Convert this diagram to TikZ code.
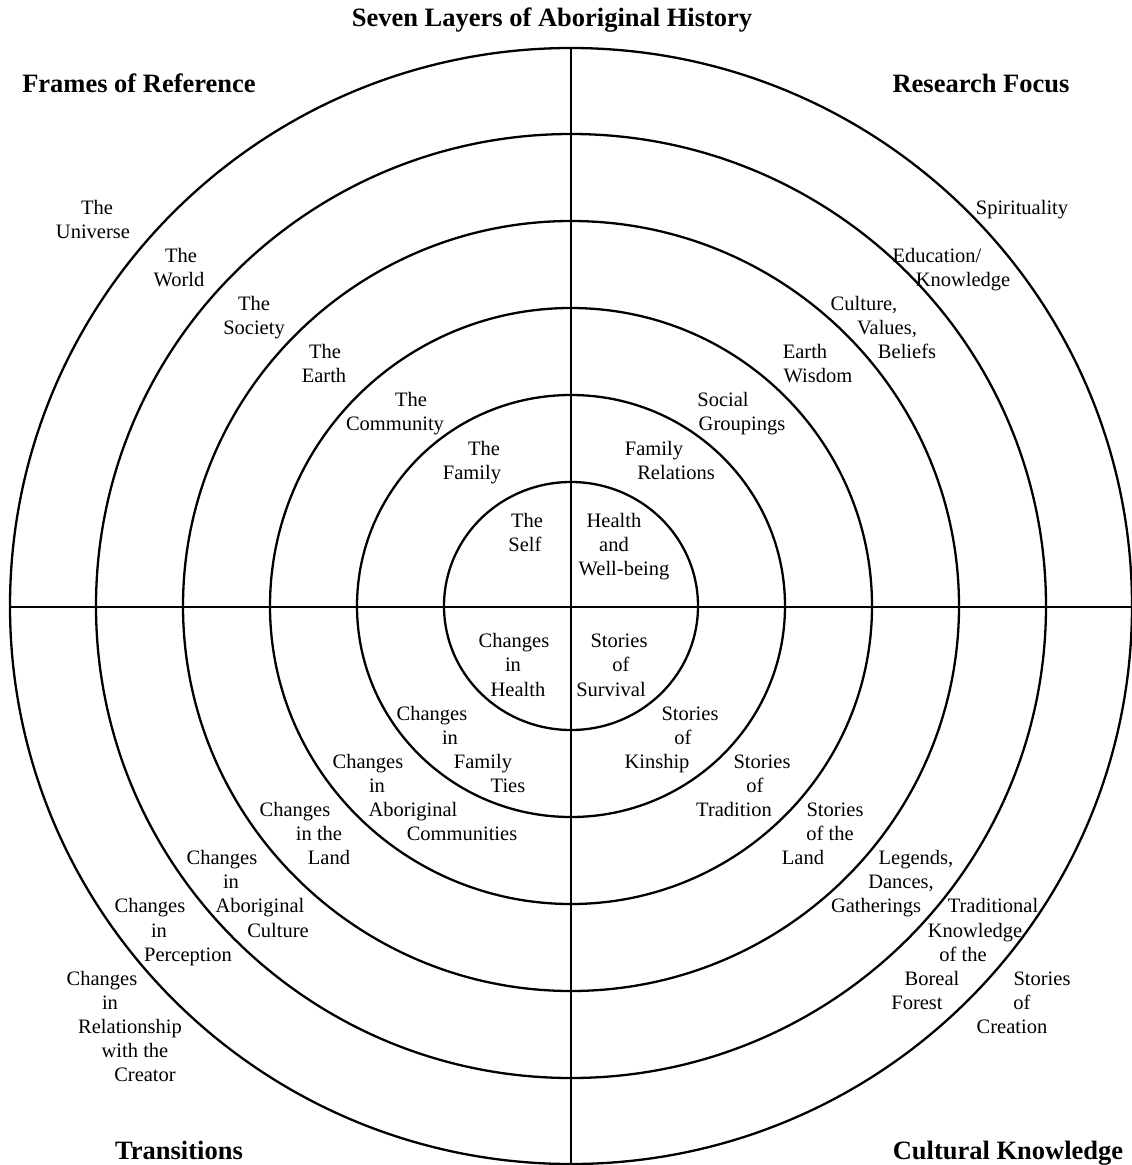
\documentclass[tikz,border=0pt]{standalone}
\usepackage{fontspec}
\setmainfont{Liberation Serif}
\tikzset{
  ring/.style={line width=2.3pt},
  axis/.style={line width=1.8pt},
  lab/.style={anchor=base, inner sep=0pt, font=\fontsize{20.5}{24}\selectfont},
  head/.style={anchor=base, inner sep=0pt, font=\fontsize{26.5}{30}\selectfont\bfseries},
}
\newcommand{\lab}[4]{\node[lab] (#1) at (#2,{214+24.1*#3}) {#4};}
\begin{document}
\begin{tikzpicture}[x=1pt,y=-1pt]
\useasboundingbox (0,0) rectangle (1132,1165);
% rings
\coordinate (ctr) at (571,606);
\foreach \r in {127,214,301,388,475,561}{
  \draw[ring] (ctr) ellipse [x radius=\r, y radius={\r-3}];
}
\coordinate (axW) at (10,607);
\coordinate (axE) at (1132,607);
\coordinate (axN) at (571,48);
\coordinate (axS) at (571,1165);
\draw[axis] (axW) -- (axE);
\draw[axis] (axN) -- (axS);
% headings
\node[head] (title) at (552,26) {Seven Layers of Aboriginal History};
\node[head] (hFR) at (139,92) {Frames of Reference};
\node[head] (hRF) at (981,92) {Research Focus};
\node[head] (hTR) at (179,1159) {Transitions};
\node[head] (hCK) at (1008,1159) {Cultural Knowledge};
% top-left
\lab{uni1}{97}{0}{The}\lab{uni2}{93}{1}{Universe}
\lab{wor1}{181}{2}{The}\lab{wor2}{179}{3}{World}
\lab{soc1}{254}{4}{The}\lab{soc2}{254}{5}{Society}
\lab{ear1}{325}{6}{The}\lab{ear2}{324}{7}{Earth}
\lab{com1}{411}{8}{The}\lab{com2}{395}{9}{Community}
\lab{fam1}{484}{10}{The}\lab{fam2}{472}{11}{Family}
\lab{self1}{527}{13}{The}\lab{self2}{525}{14}{Self}
% top-right
\lab{spi}{1022}{0}{Spirituality}
\lab{edu1}{937}{2}{Education/}\lab{edu2}{963}{3}{Knowledge}
\lab{cul1}{864}{4}{Culture,}\lab{cul2}{887}{5}{Values,}\lab{cul3}{907}{6}{Beliefs}
\lab{ew1}{805}{6}{Earth}\lab{ew2}{818}{7}{Wisdom}
\lab{sg1}{723}{8}{Social}\lab{sg2}{742}{9}{Groupings}
\lab{fr1}{654}{10}{Family}\lab{fr2}{676}{11}{Relations}
\lab{hw1}{614}{13}{Health}\lab{hw2}{614}{14}{and}\lab{hw3}{624}{15}{Well-being}
% bottom-left
\lab{ch1}{514}{18}{Changes}\lab{ch2}{513}{19}{in}\lab{ch3}{518}{20}{Health}
\lab{cf1}{432}{21}{Changes}\lab{cf2}{450}{22}{in}\lab{cf3}{483}{23}{Family}\lab{cf4}{508}{24}{Ties}
\lab{cc1}{368}{23}{Changes}\lab{cc2}{377}{24}{in}\lab{cc3}{413}{25}{Aboriginal}\lab{cc4}{462}{26}{Communities}
\lab{cl1}{295}{25}{Changes}\lab{cl2}{319}{26}{in the}\lab{cl3}{329}{27}{Land}
\lab{ca1}{222}{27}{Changes}\lab{ca2}{231}{28}{in}\lab{ca3}{260}{29}{Aboriginal}\lab{ca4}{278}{30}{Culture}
\lab{cp1}{150}{29}{Changes}\lab{cp2}{159}{30}{in}\lab{cp3}{188}{31}{Perception}
\lab{cr1}{102}{32}{Changes}\lab{cr2}{110}{33}{in}\lab{cr3}{130}{34}{Relationship}\lab{cr4}{135}{35}{with the}\lab{cr5}{145}{36}{Creator}
% bottom-right
\lab{ss1}{619}{18}{Stories}\lab{ss2}{621}{19}{of}\lab{ss3}{611}{20}{Survival}
\lab{sk1}{690}{21}{Stories}\lab{sk2}{683}{22}{of}\lab{sk3}{657}{23}{Kinship}
\lab{st1}{762}{23}{Stories}\lab{st2}{755}{24}{of}\lab{st3}{734}{25}{Tradition}
\lab{sl1}{835}{25}{Stories}\lab{sl2}{830}{26}{of the}\lab{sl3}{803}{27}{Land}
\lab{ld1}{916}{27}{Legends,}\lab{ld2}{901}{28}{Dances,}\lab{ld3}{876}{29}{Gatherings}
\lab{tk1}{993}{29}{Traditional}\lab{tk2}{975}{30}{Knowledge}\lab{tk3}{963}{31}{of the}\lab{tk4}{932}{32}{Boreal}\lab{tk5}{917}{33}{Forest}
\lab{sc1}{1042}{32}{Stories}\lab{sc2}{1022}{33}{of}\lab{sc3}{1012}{34}{Creation}
\end{tikzpicture}
\end{document}
